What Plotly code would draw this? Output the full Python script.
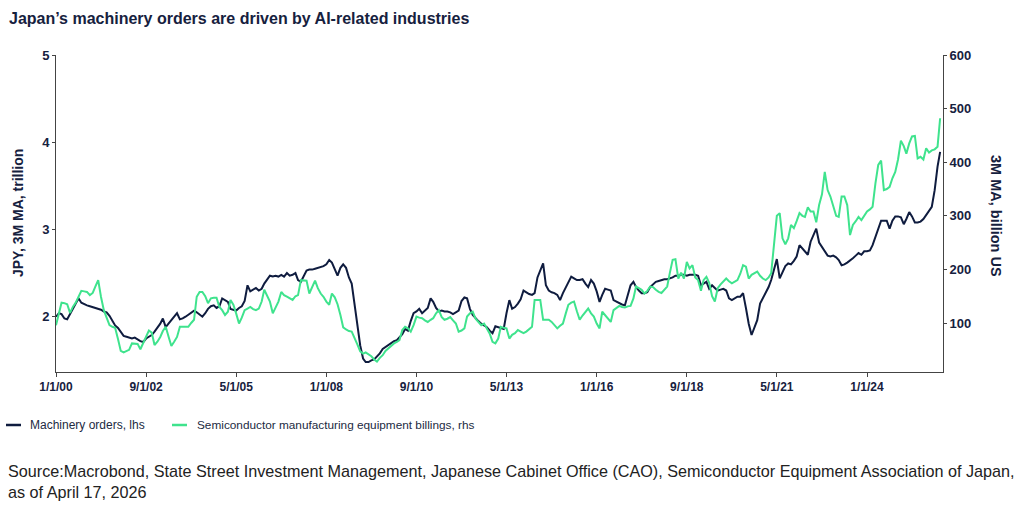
import pandas as pd
import plotly.graph_objects as go

start_month = "2000-01-01"

machinery_orders = [
    2.00, 2.04, 2.03, 1.98, 1.97, 2.03, 2.10, 2.16, 2.21, 2.16, 2.14, 2.13,
    2.12, 2.11, 2.10, 2.09, 2.08, 2.06, 2.05, 2.01, 1.95, 1.90, 1.87, 1.83,
    1.78, 1.77, 1.76, 1.75, 1.76, 1.74, 1.72, 1.71, 1.75, 1.77, 1.79, 1.83,
    1.87, 1.92, 1.98, 1.88, 1.92, 1.96, 2.00, 2.04, 1.97, 1.98, 2.00, 2.02,
    2.05, 2.07, 2.05, 2.02, 2.00, 2.04, 2.09, 2.12, 2.13, 2.10, 2.12, 2.21,
    2.19, 2.17, 2.09, 2.08, 2.07, 2.10, 2.12, 2.18, 2.36, 2.29, 2.31, 2.33,
    2.30, 2.32, 2.38, 2.43, 2.47, 2.46, 2.47, 2.46, 2.48, 2.46, 2.50, 2.47,
    2.48, 2.50, 2.42, 2.40, 2.47, 2.53, 2.54, 2.54, 2.55, 2.56, 2.57, 2.58,
    2.60, 2.65, 2.62, 2.55, 2.47, 2.56, 2.60, 2.56, 2.45, 2.38, 2.15, 1.88,
    1.67, 1.52, 1.48, 1.48, 1.50, 1.51, 1.54, 1.58, 1.63, 1.65, 1.68, 1.70,
    1.72, 1.73, 1.77, 1.80, 1.86, 1.84, 1.95, 2.04, 2.06, 2.09, 2.04, 2.07,
    2.10, 2.21, 2.17, 2.10, 2.06, 2.07, 2.06, 2.06, 2.05, 2.03, 2.05, 2.07,
    2.18, 2.22, 2.21, 2.09, 2.02, 1.98, 1.95, 1.92, 1.90, 1.88, 1.84, 1.81,
    1.89, 1.88, 1.87, 1.86, 2.04, 2.19, 2.09, 2.11, 2.15, 2.20, 2.30, 2.28,
    2.26, 2.25, 2.27, 2.45, 2.53, 2.61, 2.36, 2.30, 2.28, 2.27, 2.25, 2.19,
    2.27, 2.34, 2.40, 2.46, 2.44, 2.42, 2.42, 2.43, 2.38, 2.34, 2.42, 2.38,
    2.29, 2.17, 2.25, 2.32, 2.31, 2.30, 2.19, 2.17, 2.15, 2.14, 2.13, 2.23,
    2.36, 2.40, 2.34, 2.30, 2.27, 2.27, 2.28, 2.34, 2.37, 2.40, 2.41, 2.42,
    2.43, 2.43, 2.44, 2.45, 2.47, 2.47, 2.48, 2.48, 2.47, 2.48, 2.48, 2.48,
    2.47, 2.36, 2.38, 2.40, 2.32, 2.36, 2.33, 2.30, 2.31, 2.32, 2.30, 2.21,
    2.19, 2.21, 2.23, 2.23, 2.27, 2.10, 1.92, 1.79, 1.88, 1.96, 2.15, 2.21,
    2.28, 2.34, 2.42, 2.55, 2.66, 2.44, 2.52, 2.58, 2.61, 2.60, 2.64, 2.69,
    2.82, 2.78, 2.74, 2.71, 2.86, 2.94, 3.01, 2.85, 2.80, 2.75, 2.70, 2.69,
    2.70, 2.68, 2.65, 2.59, 2.60, 2.62, 2.65, 2.67, 2.70, 2.73, 2.71, 2.75,
    2.75, 2.76, 2.82, 2.92, 3.00, 3.10, 3.10, 3.10, 3.01, 3.10, 3.15, 3.15,
    3.14, 3.06, 3.12, 3.20, 3.15, 3.08, 3.08, 3.09, 3.12, 3.17, 3.22, 3.26,
    3.45, 3.72, 3.89,
]

semi_billings = [
    96, 120, 138, 137, 135, 119, 130, 138, 150, 160, 159, 158,
    152, 156, 168, 180, 149, 124, 110, 96, 93, 91, 70, 48,
    45, 48, 50, 62, 61, 61, 51, 62, 74, 86, 82, 59,
    65, 74, 85, 93, 75, 57, 65, 74, 93, 93, 93, 93,
    100, 106, 149, 158, 158, 150, 137, 146, 147, 147, 130, 124,
    115, 121, 143, 134, 118, 99, 110, 124, 127, 130, 126, 124,
    127, 140, 162, 150, 140, 118, 128, 140, 158, 152, 149, 146,
    143, 150, 152, 180, 180, 179, 155, 168, 179, 165, 155, 149,
    140, 134, 155, 148, 135, 115, 92, 88, 85, 84, 70, 60,
    47, 43, 45, 42, 38, 32, 28, 35, 40, 48, 53, 58,
    62, 65, 68, 87, 93, 90, 84, 96, 112, 110, 109, 105,
    102, 106, 109, 118, 124, 111, 106, 108, 111, 105, 99, 84,
    86, 90, 112, 118, 121, 108, 102, 96, 99, 90, 80, 65,
    62, 71, 93, 91, 90, 71, 78, 81, 87, 84, 81, 84,
    88, 93, 143, 143, 143, 106, 106, 106, 102, 96, 90, 95,
    99, 118, 134, 138, 140, 122, 106, 114, 121, 127, 118, 112,
    99, 90, 121, 115, 109, 102, 124, 128, 132, 130, 129, 131,
    132, 146, 168, 165, 162, 155, 160, 168, 167, 162, 158, 156,
    162, 168, 193, 218, 219, 183, 194, 183, 214, 202, 208, 185,
    180, 160, 180, 186, 175, 150, 140, 165, 172, 177, 183, 178,
    174, 177, 180, 192, 208, 205, 183, 190, 193, 196, 188, 183,
    180, 185, 193, 250, 300, 305, 258, 247, 258, 283, 277, 290,
    305, 300, 298, 316, 308, 308, 288, 320, 340, 382, 348, 336,
    320, 300, 298, 336, 336, 320, 264, 283, 290, 298, 292, 300,
    308, 312, 317, 361, 395, 403, 348, 350, 354, 370, 382, 405,
    440, 430, 416, 435, 448, 449, 407, 410, 405, 426, 418, 422,
    424, 429, 482,
]

tick_labels = ["1/1/00", "9/1/02", "5/1/05", "1/1/08", "9/1/10",
               "5/1/13", "1/1/16", "9/1/18", "5/1/21", "1/1/24"]
left_ticks = [2, 3, 4, 5]
right_ticks = [100, 200, 300, 400, 500, 600]

title_text = "Japan’s machinery orders are driven by AI-related industries"
left_title = "JPY, 3M MA, trillion"
right_title = "3M MA, billion US"
legend_names = ["Machinery orders, lhs", "Semiconductor manufacturing equipment billings, rhs"]
source_text = ("Source:Macrobond, State Street Investment Management, Japanese Cabinet Office (CAO), "
               "Semiconductor Equipment Association of Japan,<br>as of April 17, 2026")

NAVY = "#0f1c3f"
GREEN = "#3fe38d"
TEXT = "#16213e"
FONT = "Liberation Sans, Arial, sans-serif"

dates = pd.date_range(start_month, periods=len(machinery_orders), freq="MS")
tickvals = [pd.to_datetime(t, format="%m/%d/%y") for t in tick_labels]

fig = go.Figure()
fig.add_trace(go.Scatter(x=dates, y=machinery_orders, mode="lines", name=legend_names[0],
                         line=dict(color=NAVY, width=2), yaxis="y"))
fig.add_trace(go.Scatter(x=dates, y=semi_billings, mode="lines", name=legend_names[1],
                         line=dict(color=GREEN, width=2), yaxis="y2"))

axis_line = "#444444"
fig.update_layout(
    width=1024, height=512,
    margin=dict(l=56, r=81, t=55, b=140),
    paper_bgcolor="white", plot_bgcolor="white",
    showlegend=False,
    font=dict(family=FONT, color=TEXT),
    xaxis=dict(
        range=[pd.Timestamp("2000-01-01"), pd.Timestamp("2026-04-01")],
        tickvals=tickvals, ticktext=tick_labels,
        tickfont=dict(size=12, family=FONT, color=TEXT, weight="bold"),
        showgrid=False, zeroline=False,
        showline=True, linecolor=axis_line, linewidth=1,
        ticks="outside", ticklen=4, tickcolor=axis_line,
    ),
    yaxis=dict(
        range=[1.366, 5], tickvals=left_ticks,
        tickfont=dict(size=13, family=FONT, color=TEXT, weight="bold"),
        showgrid=False, zeroline=False,
        showline=True, linecolor=axis_line, linewidth=1,
        ticks="outside", ticklen=3, tickcolor=axis_line,
    ),
    yaxis2=dict(
        range=[8.6, 600], tickvals=right_ticks, overlaying="y", side="right",
        tickfont=dict(size=13, family=FONT, color=TEXT, weight="bold"),
        showgrid=False, zeroline=False,
        showline=True, linecolor=axis_line, linewidth=1,
        ticks="outside", ticklen=3, tickcolor=axis_line,
    ),
)

W = 887.0
H = 317.0
def px(xp):
    return (xp - 56) / W
def py(yp):
    return (372 - yp) / H

annotations = [
    dict(text=f"<b>{title_text}</b>", x=px(7), y=py(18), xanchor="left", yanchor="middle",
         font=dict(size=16, color=TEXT)),
    dict(text=f"<b>{left_title}</b>", x=px(18), y=py(213), xanchor="center", yanchor="middle",
         textangle=-90, font=dict(size=14, color=TEXT)),
    dict(text=f"<b>{right_title}</b>", x=px(996), y=py(216), xanchor="center", yanchor="middle",
         textangle=90, font=dict(size=14.5, color=TEXT)),
    dict(text=legend_names[0], x=px(28), y=py(425), xanchor="left", yanchor="middle",
         font=dict(size=12, color="#222a3f")),
    dict(text=legend_names[1], x=px(195), y=py(425), xanchor="left", yanchor="middle",
         font=dict(size=11.8, color="#222a3f")),
    dict(text=source_text, x=px(6), y=py(481), xanchor="left", yanchor="middle", align="left",
         font=dict(size=16.2, color="#222222")),
]
for a in annotations:
    a.update(xref="paper", yref="paper", showarrow=False)
fig.update_layout(annotations=annotations)

fig.add_shape(type="line", xref="paper", yref="paper", x0=px(6), x1=px(21), y0=py(425), y1=py(425),
              line=dict(color=NAVY, width=2.5))
fig.add_shape(type="line", xref="paper", yref="paper", x0=px(172), x1=px(187), y0=py(425), y1=py(425),
              line=dict(color=GREEN, width=2.5))

fig.write_html("out.html", config={"displayModeBar": False},
               post_script="document.body.style.margin='0';document.body.style.overflow='hidden';")
